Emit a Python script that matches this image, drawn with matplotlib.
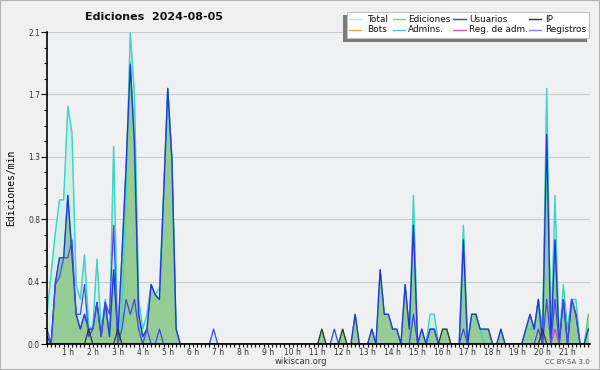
import numpy as np
import matplotlib.pyplot as plt
from matplotlib.lines import Line2D
from matplotlib.patches import Rectangle

# 10-minute samples, 00:10 -> 21:50, one row per hour
total = [
    0.2, 0.48, 0.75, 0.97, 0.97, 1.6,
    1.42, 0.4, 0.3, 0.6, 0.15, 0.15,
    0.57, 0.1, 0.3, 0.2, 1.33, 0.05,
    0.6, 1.2, 2.1, 1.68, 0.3, 0.1,
    0.2, 0.4, 0.33, 0.38, 1.0, 1.72,
    1.24, 0.1, 0, 0, 0, 0,
    0, 0, 0, 0, 0.1, 0,
    0, 0, 0, 0, 0, 0,
    0, 0, 0, 0, 0, 0,
    0, 0, 0, 0, 0, 0,
    0, 0, 0, 0, 0, 0,
    0.1, 0, 0, 0.1, 0, 0.1,
    0, 0, 0.2, 0, 0, 0,
    0.1, 0, 0.5, 0.2, 0.2, 0.1,
    0.1, 0, 0.4, 0.1, 1.0, 0,
    0.1, 0, 0.2, 0.2, 0, 0.1,
    0.1, 0, 0, 0, 0.8, 0,
    0.2, 0.2, 0.1, 0.1, 0.1, 0,
    0, 0.1, 0, 0, 0, 0,
    0, 0.1, 0.2, 0.1, 0.3, 0.1,
    1.72, 0.1, 1.0, 0.05, 0.4, 0.1,
    0.3, 0.3, 0, 0, 0.2,
]
edits = [
    0.05, 0, 0.41, 0.58, 0.58, 1.0,
    0.6, 0.2, 0.1, 0.2, 0.1, 0.1,
    0.28, 0.05, 0.28, 0.05, 0.5, 0.05,
    0.6, 1.2, 1.9, 1.35, 0.2, 0.05,
    0.1, 0.4, 0.33, 0.3, 1.0, 1.72,
    1.24, 0.1, 0, 0, 0, 0,
    0, 0, 0, 0, 0, 0,
    0, 0, 0, 0, 0, 0,
    0, 0, 0, 0, 0, 0,
    0, 0, 0, 0, 0, 0,
    0, 0, 0, 0, 0, 0,
    0.1, 0, 0, 0, 0, 0.1,
    0, 0, 0.2, 0, 0, 0,
    0.1, 0, 0.5, 0.2, 0.2, 0.1,
    0.1, 0, 0.4, 0.1, 0.8, 0,
    0.1, 0, 0.1, 0.1, 0, 0.1,
    0.1, 0, 0, 0, 0.7, 0,
    0.2, 0.2, 0.1, 0.1, 0.1, 0,
    0, 0.1, 0, 0, 0, 0,
    0, 0.1, 0.2, 0.1, 0.3, 0.1,
    1.45, 0.1, 0.7, 0.05, 0.3, 0.1,
    0.3, 0.2, 0, 0, 0.2,
]
users = [
    0.05, 0, 0.41, 0.58, 0.58, 1.0,
    0.6, 0.2, 0.1, 0.2, 0.1, 0.1,
    0.28, 0.05, 0.28, 0.05, 0.5, 0.05,
    0.6, 1.2, 1.88, 1.35, 0.2, 0.05,
    0.1, 0.4, 0.33, 0.3, 1.0, 1.72,
    1.24, 0.1, 0, 0, 0, 0,
    0, 0, 0, 0, 0, 0,
    0, 0, 0, 0, 0, 0,
    0, 0, 0, 0, 0, 0,
    0, 0, 0, 0, 0, 0,
    0, 0, 0, 0, 0, 0,
    0, 0, 0, 0, 0, 0,
    0, 0, 0.2, 0, 0, 0,
    0.1, 0, 0.5, 0.2, 0.2, 0.1,
    0.1, 0, 0.4, 0.1, 0.8, 0,
    0.1, 0, 0.1, 0.1, 0, 0,
    0, 0, 0, 0, 0.7, 0,
    0.2, 0.2, 0.1, 0.1, 0.1, 0,
    0, 0.1, 0, 0, 0, 0,
    0, 0.1, 0.2, 0.1, 0.3, 0,
    1.41, 0, 0.7, 0, 0.3, 0,
    0.3, 0.2, 0, 0, 0.1,
]
admins = [
    0.2, 0.48, 0.75, 0.97, 0.97, 1.6,
    1.42, 0.4, 0.3, 0.6, 0.12, 0.1,
    0.57, 0.1, 0.3, 0.05, 1.33, 0,
    0.2, 1.05, 2.1, 1.68, 0.3, 0.1,
    0.2, 0.4, 0.33, 0.38, 1.0, 1.72,
    1.24, 0.1, 0, 0, 0, 0,
    0, 0, 0, 0, 0, 0,
    0, 0, 0, 0, 0, 0,
    0, 0, 0, 0, 0, 0,
    0, 0, 0, 0, 0, 0,
    0, 0, 0, 0, 0, 0,
    0, 0, 0, 0, 0, 0,
    0, 0, 0, 0, 0, 0,
    0, 0, 0, 0, 0, 0,
    0, 0, 0, 0, 1.0, 0,
    0, 0, 0.2, 0.2, 0, 0,
    0, 0, 0, 0, 0.8, 0,
    0.2, 0.2, 0.1, 0, 0, 0,
    0, 0, 0, 0, 0, 0,
    0, 0.1, 0.1, 0.1, 0.3, 0,
    1.72, 0, 1.0, 0, 0.4, 0.1,
    0.3, 0.3, 0, 0, 0.1,
]
logs = [
    0.1, 0, 0.4, 0.45, 0.58, 0.58,
    0.7, 0.2, 0.2, 0.4, 0.05, 0.1,
    0.28, 0.05, 0.28, 0.2, 0.8, 0,
    0.1, 0.3, 0.2, 0.3, 0.1, 0,
    0.1, 0, 0, 0.1, 0, 0,
    0, 0, 0, 0, 0, 0,
    0, 0, 0, 0, 0.1, 0,
    0, 0, 0, 0, 0, 0,
    0, 0, 0, 0, 0, 0,
    0, 0, 0, 0, 0, 0,
    0, 0, 0, 0, 0, 0,
    0, 0, 0, 0.1, 0, 0,
    0, 0, 0, 0, 0, 0,
    0, 0, 0, 0, 0, 0,
    0, 0, 0, 0, 0.2, 0,
    0, 0, 0.1, 0.1, 0, 0,
    0, 0, 0, 0, 0.1, 0,
    0, 0, 0, 0, 0, 0,
    0, 0, 0, 0, 0, 0,
    0, 0, 0, 0, 0.1, 0,
    0.3, 0, 0.3, 0, 0.3, 0,
    0.3, 0.2, 0, 0, 0,
]
ip = [
    0, 0, 0, 0, 0, 0,
    0, 0, 0, 0, 0.1, 0,
    0, 0, 0, 0, 0, 0.1,
    0, 0, 0, 0, 0, 0,
    0, 0, 0, 0, 0, 0,
    0, 0, 0, 0, 0, 0,
    0, 0, 0, 0, 0, 0,
    0, 0, 0, 0, 0, 0,
    0, 0, 0, 0, 0, 0,
    0, 0, 0, 0, 0, 0,
    0, 0, 0, 0, 0, 0,
    0.1, 0, 0, 0, 0, 0.1,
    0, 0, 0, 0, 0, 0,
    0, 0, 0, 0, 0, 0,
    0, 0, 0, 0, 0, 0,
    0, 0, 0, 0, 0, 0.1,
    0.1, 0, 0, 0, 0, 0,
    0, 0, 0, 0, 0, 0,
    0, 0, 0, 0, 0, 0,
    0, 0, 0, 0, 0, 0.1,
    0, 0, 0, 0, 0, 0,
    0, 0, 0, 0, 0,
]
adm_logs = [
    0, 0, 0, 0, 0, 0,
    0, 0, 0, 0, 0, 0,
    0, 0, 0, 0, 0, 0,
    0, 0, 0, 0, 0, 0,
    0, 0, 0, 0, 0, 0,
    0, 0, 0, 0, 0, 0,
    0, 0, 0, 0, 0, 0,
    0, 0, 0, 0, 0, 0,
    0, 0, 0, 0, 0, 0,
    0, 0, 0, 0, 0, 0,
    0, 0, 0, 0, 0, 0,
    0, 0, 0, 0, 0, 0,
    0, 0, 0, 0, 0, 0,
    0, 0, 0, 0, 0, 0,
    0, 0, 0, 0, 0, 0,
    0, 0, 0, 0, 0, 0,
    0, 0, 0, 0, 0, 0,
    0, 0, 0, 0, 0, 0,
    0, 0, 0, 0, 0, 0,
    0, 0, 0, 0, 0, 0,
    0, 0, 0.1, 0, 0, 0,
    0, 0, 0, 0, 0,
]

y_ticks = [0, 0.42, 0.84, 1.26, 1.68, 2.1]
y_labels = ["0.0", "0.4", "0.8", "1.3", "1.7", "2.1"]
hours = list(range(1, 22))
legend_names = ["Total", "Ediciones", "Usuarios", "IP",
                "Bots", "Admins.", "Reg. de adm.", "Registros"]
legend_colors = ["#b0e6e4", "#86d086", "#3a3ae0", "#333333",
                 "#f4a640", "#4cc6e0", "#d050d8", "#8080f0"]

t = np.arange(1, len(edits) + 1) / 6.0

W, H = 600, 370
fig = plt.figure(figsize=(6, 3.7), dpi=100, facecolor="#f0f0f0")
ax = fig.add_axes([47 / W, 26 / H, 543 / W, 312 / H])
ax.set_facecolor("#eff0f2")

ax.fill_between(t, total, color="#d2eee8", lw=0, zorder=1)
ax.plot(t, total, color="#b8e8e2", lw=0.8, zorder=2)
ax.fill_between(t, edits, color="#93cd93", lw=0, zorder=3)
ax.plot(t, edits, color="#62bf62", lw=0.8, zorder=4)
ax.plot(t, admins, color="#3cd4c4", lw=1.0, zorder=5)
ax.plot(t, users, color="#2038dc", lw=1.0, zorder=6)
ax.plot(t, logs, color="#4646ee", lw=0.9, zorder=7)
ax.plot(t, ip, color="#333333", lw=0.9, zorder=8)
ax.plot(t, adm_logs, color="#c83cd0", lw=0.9, zorder=9)

ax.set_xlim(0.176, 21.9)
ax.set_ylim(0, 2.1)
ax.set_yticks(y_ticks)
ax.set_yticklabels(y_labels)
ax.set_yticks(np.arange(0, 2.1, 0.105), minor=True)
ax.set_xticks(hours)
ax.set_xticklabels([f"{h} h" for h in hours])
ax.set_xticks(np.arange(1, 132) / 6.0, minor=True)

ax.yaxis.grid(True, color="#cccccc", lw=0.8)
ax.set_axisbelow(True)
for s in ("top", "right"):
    ax.spines[s].set_visible(False)
for s in ("left", "bottom"):
    ax.spines[s].set_linewidth(1.2)
    ax.spines[s].set_zorder(10)

ax.tick_params(axis="y", which="major", length=4, width=0.8, pad=1,
               labelsize=5.5, labelcolor="#333333")
ax.tick_params(axis="y", which="minor", length=2.5, width=0.8)
ax.tick_params(axis="x", which="both", length=2.5, width=0.8, pad=0.5,
               labelsize=5.5, labelcolor="#333333")

ax.set_ylabel("Ediciones/min", family="DejaVu Sans Mono", fontsize=7)
ax.yaxis.set_label_coords(-0.056, 0.5)

fig.text(154 / W, 1 - 16.5 / H, "Ediciones  2024-08-05", ha="center", va="center",
         fontsize=8, fontweight="bold", color="#111111")
fig.text(300.5 / W, 1 - 361 / H, "wikiscan.org", ha="center", va="center",
         fontsize=6, color="#333333")
fig.text(590 / W, 1 - 362 / H, "CC BY-SA 3.0", ha="right", va="center",
         fontsize=5, color="#555555")

# legend box with shadow
fig.patches.append(Rectangle((342.7 / W, 1 - 41.7 / H), 244 / W, 27 / H,
                             transform=fig.transFigure, facecolor="#7a7a7a",
                             edgecolor="none", zorder=20))
fig.patches.append(Rectangle((346.7 / W, 1 - 38.3 / H), 242.6 / W, 26.6 / H,
                             transform=fig.transFigure, facecolor="white",
                             edgecolor="#c0c0c0", lw=0.8, zorder=21))
col_handle = [(349.3, 360.7), (392.7, 405), (453.3, 466), (529.3, 540.7)]
col_text = [366.7, 408.3, 469.3, 545]
row_y = [19, 29.7]
for i, (name, c) in enumerate(zip(legend_names, legend_colors)):
    r, col = divmod(i, 4)
    x0, x1 = col_handle[col]
    y = 1 - row_y[r] / H
    fig.add_artist(Line2D([x0 / W, x1 / W], [y, y], color=c, lw=1.0,
                          transform=fig.transFigure, zorder=22))
    fig.text(col_text[col] / W, y, name, ha="left", va="center",
             fontsize=6.4, color="#111111", zorder=23)

fig.patches.append(Rectangle((0, 0), 1, 1, transform=fig.transFigure,
                             fill=False, edgecolor="#b4b4b4", lw=1.5, zorder=30))

fig.savefig("out.png", dpi=100, facecolor=fig.get_facecolor())
